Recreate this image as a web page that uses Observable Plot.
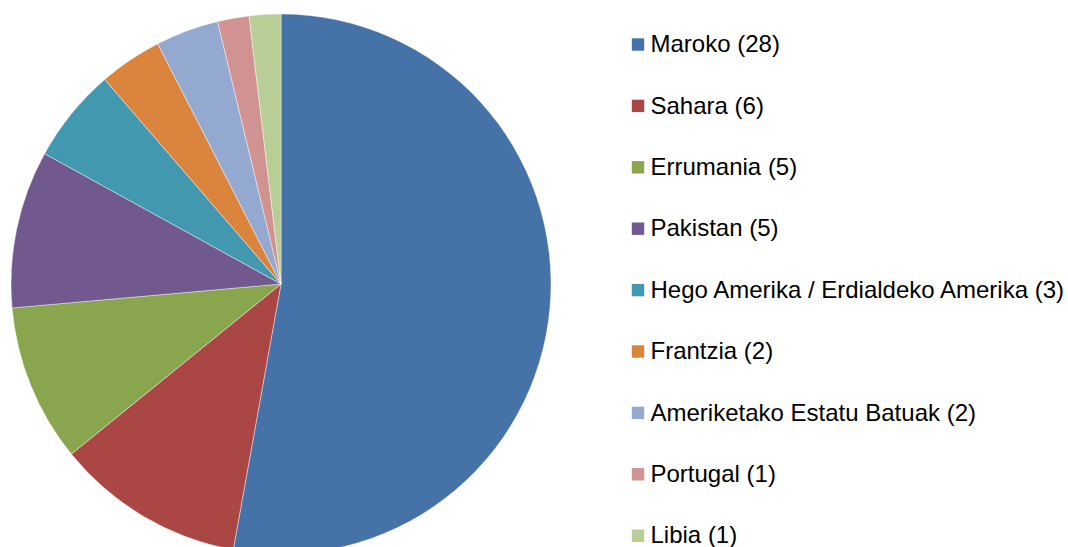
<!DOCTYPE html>
<html>
<head>
<meta charset="utf-8">
<script src="https://cdn.jsdelivr.net/npm/d3@7"></script>
<script src="https://cdn.jsdelivr.net/npm/@observablehq/plot@0.6"></script>
<style>
  html, body { margin: 0; padding: 0; background: #fff; overflow: hidden; }
</style>
</head>
<body>
<div id="chart"></div>
<script>
const categories = ["Maroko", "Sahara", "Errumania", "Pakistan", "Hego Amerika / Erdialdeko Amerika", "Frantzia", "Ameriketako Estatu Batuak", "Portugal", "Libia"];
const counts = [28, 6, 5, 5, 3, 2, 2, 1, 1];
const colors = ["#4572A7", "#AA4643", "#89A54E", "#71588F", "#4198AF", "#DB843D", "#93A9CF", "#D19392", "#B9CD96"];

const data = categories.map((name, i) => ({name, count: counts[i], label: `${name} (${counts[i]})`}));

const W = 1068, H = 547;
const pie = {cx: 281, cy: 284, r: 270};

function pieMark(index, scales, values, dimensions) {
  const arcs = d3.pie().sort(null).value(d => d.count)(data);
  const arc = d3.arc().innerRadius(0).outerRadius(pie.r);
  const g = d3.create("svg:g").attr("transform", `translate(${scales.x(pie.cx)},${scales.y(pie.cy)})`);
  g.selectAll("path").data(arcs).join("path")
    .attr("d", arc)
    .attr("fill", d => scales.color(d.data.name))
    .attr("stroke", "#ffffff")
    .attr("stroke-width", 0.6)
    .attr("stroke-opacity", 0.7);
  return g.node();
}

const legendTop = 44, legendStep = 61.4;
const legend = data.map((d, i) => ({...d, ly: legendTop + i * legendStep}));

const chart = Plot.plot({
  width: W,
  height: H,
  margin: 0,
  x: {domain: [0, W], range: [0, W], axis: null},
  y: {domain: [0, H], range: [0, H], axis: null},
  color: {domain: categories, range: colors},
  style: {fontFamily: "Arial, 'Liberation Sans', sans-serif", background: "#fff"},
  marks: [
    pieMark,
    Plot.dot(legend, {x: () => 637.5, y: "ly", fill: "name", symbol: "square", r: 7.0, stroke: null}),
    Plot.text(legend, {x: () => 650, y: "ly", text: "label", textAnchor: "start", fontSize: 24, fill: "#000"})
  ]
});
document.getElementById("chart").append(chart);
</script>
</body>
</html>
